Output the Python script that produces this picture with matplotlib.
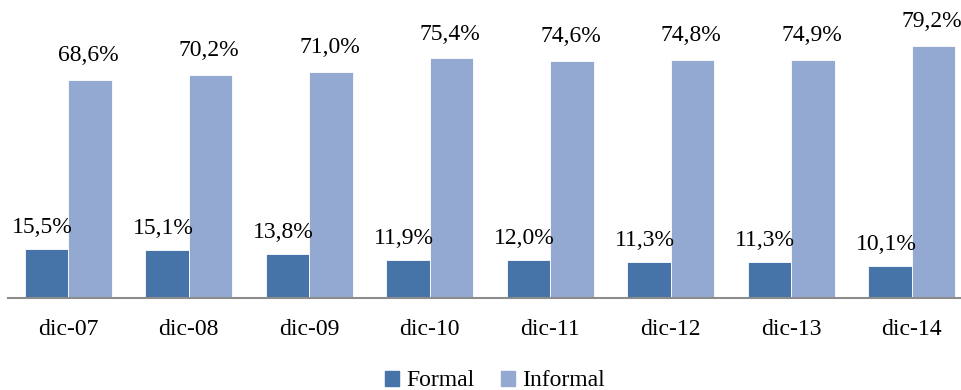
import numpy as np
import matplotlib.pyplot as plt
from matplotlib.patches import Patch

categories = ["dic-07", "dic-08", "dic-09", "dic-10", "dic-11", "dic-12", "dic-13", "dic-14"]
formal = [15.5, 15.1, 13.8, 11.9, 12.0, 11.3, 11.3, 10.1]
informal = [68.6, 70.2, 71.0, 75.4, 74.6, 74.8, 74.9, 79.2]

c_formal = "#4673A8"
c_informal = "#94A9D2"

plt.rcParams['font.family'] = ['Liberation Serif', 'DejaVu Serif']

fig = plt.figure(figsize=(9.62, 3.90), dpi=100)
ax = fig.add_axes([8 / 962, 92 / 390, 964 / 962, 286 / 390])

x = np.arange(len(categories))
w = 0.36
b1 = ax.bar(x - 0.18, formal, w, color=c_formal, edgecolor="white", linewidth=0.6)
b2 = ax.bar(x + 0.18, informal, w, color=c_informal, edgecolor="white", linewidth=0.6)

def fmt(v):
    return f"{v:.1f}%".replace(".", ",")

for rect, v in zip(b1, formal):
    ax.annotate(fmt(v), (rect.get_x() + rect.get_width() / 2, v), xytext=(-3, 8),
                textcoords="offset points", ha="center", va="bottom", fontsize=17)
for rect, v in zip(b2, informal):
    ax.annotate(fmt(v), (rect.get_x() + rect.get_width() / 2, v), xytext=(-1, 10),
                textcoords="offset points", ha="center", va="bottom", fontsize=17)

ax.set_xlim(-0.5, 7.5)
ax.set_ylim(0, 90)
ax.set_xticks(x)
ax.set_xticklabels(categories, fontsize=17)
ax.tick_params(axis="x", length=0, pad=15)
ax.set_yticks([])
for s in ["top", "right", "left"]:
    ax.spines[s].set_visible(False)
ax.spines["bottom"].set_color("#8c8c8c")
ax.spines["bottom"].set_linewidth(1.5)

handles = [Patch(color=c_formal, label="Formal"), Patch(color=c_informal, label="Informal")]
fig.legend(handles=handles, loc="center", bbox_to_anchor=(495 / 962, 1 - 381 / 390), ncol=2,
           frameon=False, fontsize=17, handlelength=0.6, handleheight=0.6,
           handletextpad=0.3, columnspacing=1.1)

fig.savefig("out.png", dpi=100)
